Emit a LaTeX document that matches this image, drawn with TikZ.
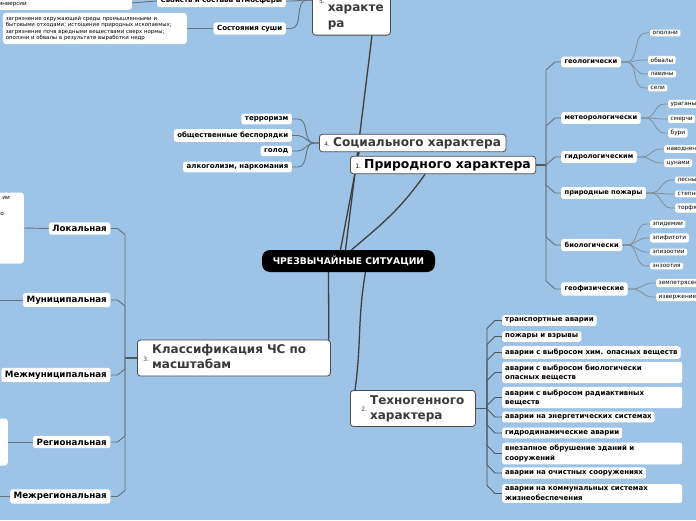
\documentclass[tikz,border=0pt]{standalone}
\usepackage{fontspec}
\setmainfont{DejaVu Sans}
\usetikzlibrary{calc}
\definecolor{bgblue}{HTML}{9DC3E6}
\definecolor{mainline}{HTML}{3F3F3F}
\definecolor{trunkline}{HTML}{4E5660}
\definecolor{subline}{HTML}{66737F}
\definecolor{leafline}{HTML}{7D8B98}
\definecolor{maintext}{HTML}{3A3A3A}
\newcommand\myfs[2]{\fontsize{#1}{#2}\selectfont}
\newcommand\numlab[1]{{\myfs{6}{7}\mdseries #1}\hspace{3pt}}
\pgfdeclarelayer{lines}
\pgfsetlayers{lines,main}
\tikzset{
  central/.style={fill=black, text=white, rounded corners=8pt, minimum width=173pt, minimum height=22pt, inner sep=0pt, font=\myfs{9.2}{10}\bfseries},
  mainbox/.style={draw=black!70, line width=0.8pt, fill=white, rounded corners=3pt, inner xsep=5pt, inner ysep=3pt, text=maintext, font=\myfs{12}{15}\bfseries},
  subN/.style={fill=white, rounded corners=2.5pt, inner xsep=3.5pt, inner ysep=3.4pt, font=\myfs{6.7}{8}\bfseries, anchor=west},
  subT/.style={fill=white, rounded corners=2.5pt, inner xsep=3pt, inner ysep=2.8pt, font=\myfs{7}{9.3}\bfseries, anchor=west},
  wideT/.style={subT, text width=174pt, align=left},
  subS/.style={fill=white, rounded corners=2.5pt, inner xsep=3.5pt, inner ysep=2.8pt, font=\myfs{7}{9}\bfseries, anchor=east},
  subC/.style={fill=white, rounded corners=2.5pt, inner xsep=3.5pt, inner ysep=3pt, font=\myfs{8.7}{10}\bfseries, anchor=east},
  leaf/.style={fill=white, rounded corners=2pt, inner xsep=2.5pt, inner ysep=1.8pt, font=\myfs{5.8}{6.8}, anchor=west},
  plainbox/.style={fill=white, rounded corners=3pt},
  mline/.style={draw=mainline, line width=1.3pt},
  tline/.style={draw=trunkline, line width=1.7pt},
  sline/.style={draw=subline, line width=0.9pt},
  lline/.style={draw=leafline, line width=0.7pt},
}
\begin{document}
\begin{tikzpicture}[x=1pt,y=-1pt]
\useasboundingbox (0,0) rectangle (696,520);
\begin{pgfonlayer}{lines}
\fill[bgblue] (0,0) rectangle (696,520);
\end{pgfonlayer}
\clip (0,0) rectangle (696,520);

% ---------- central and main topics ----------
\node[central] (ce) at (348.5,261) {ЧРЕЗВЫЧАЙНЫЕ СИТУАЦИИ};
\node[mainbox, anchor=west, text=black, font=\myfs{12.4}{15}\bfseries, minimum width=183pt] (nat) at (350,165) {\numlab{1.}Природного характера};
\node[mainbox, anchor=west, font=\myfs{12.1}{13}\bfseries] (soc) at (319,143) {\numlab{4.}Социального характера};
\node[mainbox, anchor=west, minimum width=125pt] (tech) at (350,408.5) {\numlab{2.}\begin{tabular}[c]{@{}l@{}}Техногенного\\характера\end{tabular}};
\node[mainbox, anchor=west, text width=181pt, align=left, inner xsep=6pt] (cls) at (137,358) {\numlab{3.}\begin{tabular}[c]{@{}l@{}}Классификация ЧС по\\масштабам\end{tabular}};
\node[mainbox, anchor=south west, minimum width=78pt, font=\myfs{12}{16}\bfseries] (five) at (312,35.5) {\numlab{5.}\begin{tabular}[c]{@{}l@{}}\mbox{}\\\mbox{}\\характе\\ра\end{tabular}};

% ---------- natural ----------
\node[subN] (geo) at (561,62) {геологически};
\node[subN] (met) at (561,118) {метеорологически};
\node[subN] (hyd) at (561,157) {гидрологическим};
\node[subN] (fire) at (561,193) {природные пожары};
\node[subN] (bio) at (561,245) {биологически};
\node[subN] (gph) at (561,289) {геофизические};

\node[leaf] (g1) at (650,33) {оползни};
\node[leaf] (g2) at (648,60) {обвалы};
\node[leaf] (g3) at (648,74) {лавины};
\node[leaf] (g4) at (648,88) {сели};
\node[leaf] (m1) at (668,104) {ураганы};
\node[leaf] (m2) at (668,119) {смерчи};
\node[leaf] (m3) at (668,133) {бури};
\node[leaf] (h1) at (664,149) {наводнения};
\node[leaf] (h2) at (664,163) {цунами};
\node[leaf] (f1) at (675,180) {лесные};
\node[leaf] (f2) at (675,194) {степные};
\node[leaf] (f3) at (675,208) {торфяные};
\node[leaf] (b1) at (650,224) {эпидемии};
\node[leaf] (b2) at (650,238) {эпифитоти};
\node[leaf] (b3) at (650,252) {эпизоотии};
\node[leaf] (b4) at (650,266) {энзоотия};
\node[leaf] (p1) at (656,283) {землетрясения};
\node[leaf] (p2) at (656,297) {извержение};

% ---------- social ----------
\node[subS] (s1) at (292,119) {терроризм};
\node[subS] (s2) at (292,135.5) {общественные беспорядки};
\node[subS] (s3) at (292,151) {голод};
\node[subS] (s4) at (292,167) {алкоголизм, наркомания};

% ---------- technogenic ----------
\node[subT] (t1) at (502,320.5) {транспортные аварии};
\node[subT] (t2) at (502,336.5) {пожары и взрывы};
\node[subT] (t3) at (502,352.5) {аварии с выбросом хим. опасных веществ};
\node[wideT] (t4) at (502,372.5) {аварии с выбросом биологически\\опасных веществ};
\node[wideT] (t5) at (502,397.5) {аварии с выбросом радиактивных\\веществ};
\node[subT] (t6) at (502,417) {аварии на энергетических системах};
\node[subT] (t7) at (502,433) {гидродинамические аварии};
\node[wideT] (t8) at (502,453.5) {внезапное обрушение зданий и\\сооружений};
\node[subT] (t9) at (502,473) {аварии на очистных сооружениях};
\node[wideT] (t10) at (502,493.5) {аварии на коммунальных системах\\жизнеобеспечения};

% ---------- classification ----------
\node[subC] (k1) at (110.5,228.5) {Локальная};
\node[subC] (k2) at (110.5,300) {Муниципальная};
\node[subC] (k3) at (110.5,375) {Межмуниципальная};
\node[subC] (k4) at (110.5,442) {Региональная};
\node[subC] (k5) at (110.5,496.5) {Межрегиональная};
\node[plainbox, anchor=east, minimum width=44pt, minimum height=71pt] (lokbox) at (24,228) {};
\node[font=\myfs{5.8}{6.8}, inner sep=0pt, anchor=east] (lkt1) at (10,198) {ии};
\node[font=\myfs{5.8}{6.8}, inner sep=0pt, anchor=east] (lkt2) at (4,214) {о};
\node[plainbox, anchor=east, minimum width=30pt, minimum height=47pt] (regbox) at (8,442) {};
\coordinate (mleft) at (-3,300);
\coordinate (mrleft) at (-3,496.5);

% ---------- branch 5 ----------
\node[subS] (svo) at (286,1) {Свойств и состава атмосферы};
\node[subS] (sush) at (286,28.5) {Состояния суши};
\node[plainbox, anchor=east, text width=178pt, inner xsep=3pt, inner ysep=3pt, font=\myfs{5.4}{6.6}, align=left] (sushtxt) at (187,28.5) {загрязнение окружающей среды промышленными и\\бытовыми отходами; истощение природных ископаемых;\\загрязнение почв вредными веществами сверх нормы;\\оползни и обвалы в результате выработки недр};
\node[plainbox, anchor=south east, text width=130pt, inner xsep=3pt, inner ysep=3pt, font=\myfs{5.6}{6.7}, align=left] (invbox) at (132,10) {\mbox{}\\инверсии};

% ---------- connectors ----------
\begin{pgfonlayer}{lines}
\draw[mline] ([xshift=-8]ce.north) -- ([xshift=40]soc.south west);
\draw[mline] ([xshift=-3]ce.north) -- ([xshift=60]five.south west);
\draw[mline] ([xshift=3]ce.north) to[out=40,in=-125] ([xshift=75]nat.south west);
\draw[mline] ([xshift=17]ce.south) to[out=-100,in=82] ([xshift=5]tech.north west);
\draw[mline] ([xshift=-20]ce.south) -- ([xshift=-2]cls.north east);

\coordinate (tN) at (546,165);
\coordinate (tT) at (487,408.5);
\coordinate (tC) at (125,358);
\draw[tline] (nat.east) -- (tN);
\draw[tline] (tech.east) -- (tT);
\draw[tline] (cls.west) -- (tC);

\foreach \c/\d in {geo/8,met/8,hyd/8,fire/-8,bio/-8,gph/-8}
  \draw[sline] (tN) -- ($(tN |- \c.west)+(0,\d)$) -- ($(\c.west)+(-6,0)$) -- (\c.west);
\foreach \c/\d in {t1/8,t2/8,t3/8,t4/8,t5/8,t6/-8,t7/-8,t8/-8,t9/-8,t10/-8}
  \draw[sline, draw=trunkline] (tT) -- ($(tT |- \c.west)+(0,\d)$) -- ($(\c.west)+(-7,0)$) -- (\c.west);
\foreach \c/\d in {k1/6,k2/6,k3/-6,k4/-6,k5/-6}
  \draw[sline] (tC) -- ($(tC |- \c.east)+(0,\d)$) -- ($(\c.east)+(7,0)$) -- (\c.east);

\foreach \p/\l in {geo/g1,geo/g2,geo/g3,geo/g4,met/m1,met/m2,met/m3,hyd/h1,hyd/h2,fire/f1,fire/f2,fire/f3,bio/b1,bio/b2,bio/b3,bio/b4,gph/p1,gph/p2}
  \draw[lline] (\p.east) -- ++(5,0) to[out=0,in=180] ($(\l.west)+(-4,0)$) -- (\l.west);

\foreach \c in {s1,s2,s3,s4}
  \draw[sline] (soc.west) -- ++(-5,0) to[out=180,in=0] ($(\c.east)+(6,0)$) -- (\c.east);
\foreach \c in {svo,sush}
  \draw[sline] (five.west) -- ++(-5,0) to[out=180,in=0] ($(\c.east)+(5,0)$) -- (\c.east);

\draw[sline] (invbox.east) -- (svo.west);
\draw[sline] (sushtxt.east) -- (sush.west);
\draw[sline] (lokbox.east) -- (k1.west);
\draw[sline] (regbox.east) -- (k4.west);
\draw[sline] (mleft) -- (k2.west);
\draw[sline] (mrleft) -- (k5.west);
\end{pgfonlayer}
\end{tikzpicture}
\end{document}
